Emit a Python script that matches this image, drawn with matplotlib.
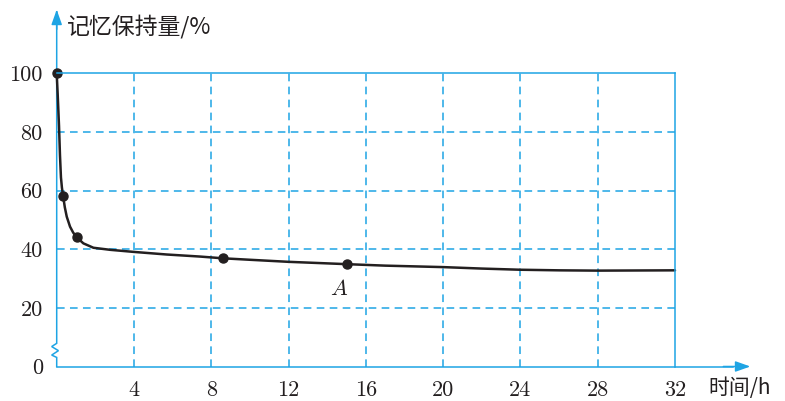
import matplotlib
matplotlib.use("Agg")
import matplotlib.pyplot as plt

plt.rcParams["mathtext.fontset"] = "cm"

# data
hours = [0, 0.33, 1.03, 8.61, 15.03]
retention = [100, 58.2, 44.1, 36.9, 34.9]

curve_x = [0, 0.05, 0.12, 0.17, 0.22, 0.27, 0.33, 0.42, 0.52, 0.69, 0.85, 1.03,
           1.38, 1.9, 2.76, 3.96, 5.69, 7.41, 8.61, 10, 12, 15.03, 17, 20,
           22, 24, 26, 28, 30, 32]
curve_y = [100, 93, 82, 72, 64.5, 61, 58.2, 54.3, 51.1, 47.7, 45.7, 44.1,
           42.0, 40.5, 39.8, 39.1, 38.2, 37.5, 36.9, 36.4, 35.7, 34.9, 34.4,
           33.9, 33.4, 33.0, 32.8, 32.7, 32.75, 32.8]

x_ticks = [4, 8, 12, 16, 20, 24, 28, 32]
y_ticks = [0, 20, 40, 60, 80, 100]

blue = "#1ea4e4"
ink = "#231f20"
cjk = ["Noto Sans CJK SC", "DejaVu Sans"]
num_font = "cmr10"

fig = plt.figure(figsize=(7.85, 4.01), dpi=100)
ax = fig.add_axes([56.7 / 785, 34.5 / 401, 618.3 / 785, 293.2 / 401])
ax.set_xlim(0, 32)
ax.set_ylim(0, 100)

for side in ["left", "bottom"]:
    ax.spines[side].set_visible(False)
for side in ["top", "right"]:
    ax.spines[side].set_color(blue)
    ax.spines[side].set_linewidth(1.1)

# dashed grid
ax.vlines(x_ticks[:-1], 0, 100, colors=blue, lw=1.1, linestyles=(0, (5, 3.5)))
ax.hlines(y_ticks[1:-1], 0, 32, colors=blue, lw=1.1, linestyles=(0, (5, 3.5)))

# y axis with break mark
brk_x = [0, 0, -0.26, 0.09, -0.26, 0, 0]
brk_y = [121, 7.9, 6.8, 5.4, 3.9, 3.1, 0]
ax.plot(brk_x, brk_y, color=blue, lw=1.1, clip_on=False, solid_joinstyle="miter")
ax.plot([0, 35], [0, 0], color=blue, lw=1.1, clip_on=False)
ax.annotate("", xy=(0, 121.7), xytext=(0, 115), annotation_clip=False,
            arrowprops=dict(arrowstyle="-|>,head_length=0.9,head_width=0.32",
                            color=blue, lw=1.1, shrinkA=0, shrinkB=0))
ax.annotate("", xy=(35.9, 0), xytext=(34.5, 0), annotation_clip=False,
            arrowprops=dict(arrowstyle="-|>,head_length=0.9,head_width=0.32",
                            color=blue, lw=1.1, shrinkA=0, shrinkB=0))

# curve and points
ax.plot(curve_x, curve_y, color=ink, lw=1.8, clip_on=False,
        solid_capstyle="round", solid_joinstyle="round")
ax.plot(hours, retention, "o", color=ink, ms=6.5, clip_on=False)
ax.text(14.6, 26.5, "$A$", fontsize=16, ha="center", va="center", color=ink)

# ticks
ax.tick_params(length=0)
ax.set_xticks(x_ticks)
ax.set_xticklabels([str(v) for v in x_ticks], fontname=num_font, fontsize=16, color=ink)
ax.set_yticks(y_ticks)
ax.set_yticklabels([str(v) for v in y_ticks], fontname=num_font, fontsize=16, color=ink)
ax.tick_params(axis="x", pad=10)
ax.tick_params(axis="y", pad=10)

ax.text(0.55, 116, "记忆保持量/%", family=cjk, fontsize=16.5, color=ink,
        ha="left", va="center", clip_on=False)
ax.text(33.75, -7.3, "时间/h", family=cjk, fontsize=15, color=ink,
        ha="left", va="center", clip_on=False)

fig.savefig("out.png", dpi=100)
